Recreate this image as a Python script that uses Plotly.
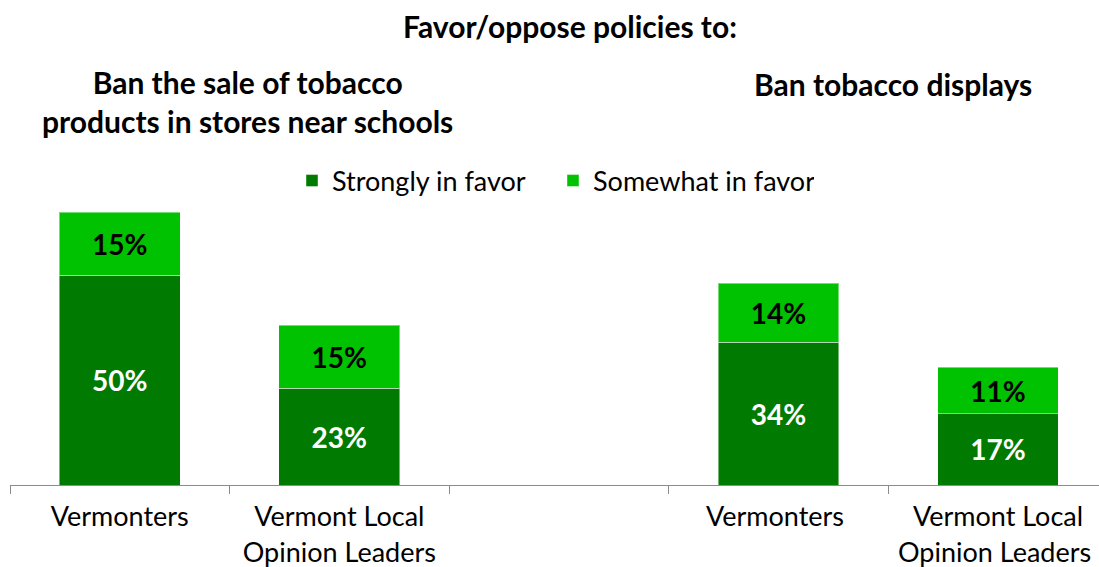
import plotly.graph_objects as go

categories = ["Vermonters", "Vermont Local<br>Opinion Leaders", " ",
              "Vermonters ", "Vermont Local<br>Opinion Leaders "]
strongly = [50, 23, None, 34, 17]
somewhat = [15, 15, None, 14, 11]
series_names = ["Strongly in favor", "Somewhat in favor"]
title_text = "Favor/oppose policies to:"
sub_left = "Ban the sale of tobacco<br>products in stores near schools"
sub_right = "Ban tobacco displays"

DARK = "#007A00"
LIGHT = "#00C200"
FONT = "Lato"

fig = go.Figure()
fig.add_trace(go.Bar(
    x=categories, y=strongly, name=series_names[0],
    marker=dict(color=DARK, line=dict(color="rgba(255,255,255,0.45)", width=1)),
    texttemplate="%{y}%", textposition="inside", insidetextanchor="middle",
    textangle=0,
    textfont=dict(family=FONT, size=28, color="white", weight="bold"),
))
fig.add_trace(go.Bar(
    x=categories, y=somewhat, name=series_names[1],
    marker=dict(color=LIGHT, line=dict(color="rgba(255,255,255,0.45)", width=1)),
    texttemplate="%{y}%", textposition="inside", insidetextanchor="middle",
    textangle=0,
    textfont=dict(family=FONT, size=28, color="black", weight="bold"),
))

fig.update_layout(
    width=1099, height=567,
    barmode="stack", bargap=0.45,
    margin=dict(l=10, r=0, t=191, b=82, autoexpand=False),
    paper_bgcolor="white", plot_bgcolor="white",
    font=dict(family=FONT, size=26, color="black"),
    showlegend=True,
    legend=dict(orientation="h", x=(292 - 10) / 1089, xanchor="left", y=1.034,
                yanchor="middle", font=dict(family=FONT, size=27),
                traceorder="normal", entrywidth=216, entrywidthmode="pixels"),
    xaxis=dict(type="category", categoryorder="array", categoryarray=categories,
               range=[-0.5, 4.46], tickson="boundaries", ticks="outside",
               ticklen=8, tickcolor="#8c8c8c", showline=True,
               linecolor="#8c8c8c", linewidth=1, showgrid=False,
               ticklabelstandoff=8, automargin=False,
               tickfont=dict(family=FONT, size=27), fixedrange=True),
    yaxis=dict(range=[0, 70], visible=False, showgrid=False, zeroline=False,
               fixedrange=True, automargin=False),
)

fig.add_annotation(text="<b>" + title_text + "</b>", xref="paper", yref="paper",
                   x=(570 - 10) / 1089, y=(485 - 26) / 294, showarrow=False,
                   xanchor="center", yanchor="middle",
                   font=dict(family=FONT, size=30))
fig.add_annotation(text="<b>" + sub_left + "</b>", xref="paper", yref="paper",
                   x=(247 - 10) / 1089, y=(485 - 101) / 294, showarrow=False,
                   xanchor="center", yanchor="middle", align="center",
                   font=dict(family=FONT, size=30))
fig.add_annotation(text="<b>" + sub_right + "</b>", xref="paper", yref="paper",
                   x=(893 - 10) / 1089, y=(485 - 84) / 294, showarrow=False,
                   xanchor="center", yanchor="middle",
                   font=dict(family=FONT, size=30))

fig.write_html("out.html", config={"displayModeBar": False},
               post_script="document.body.style.margin='0';document.body.style.padding='0';")
